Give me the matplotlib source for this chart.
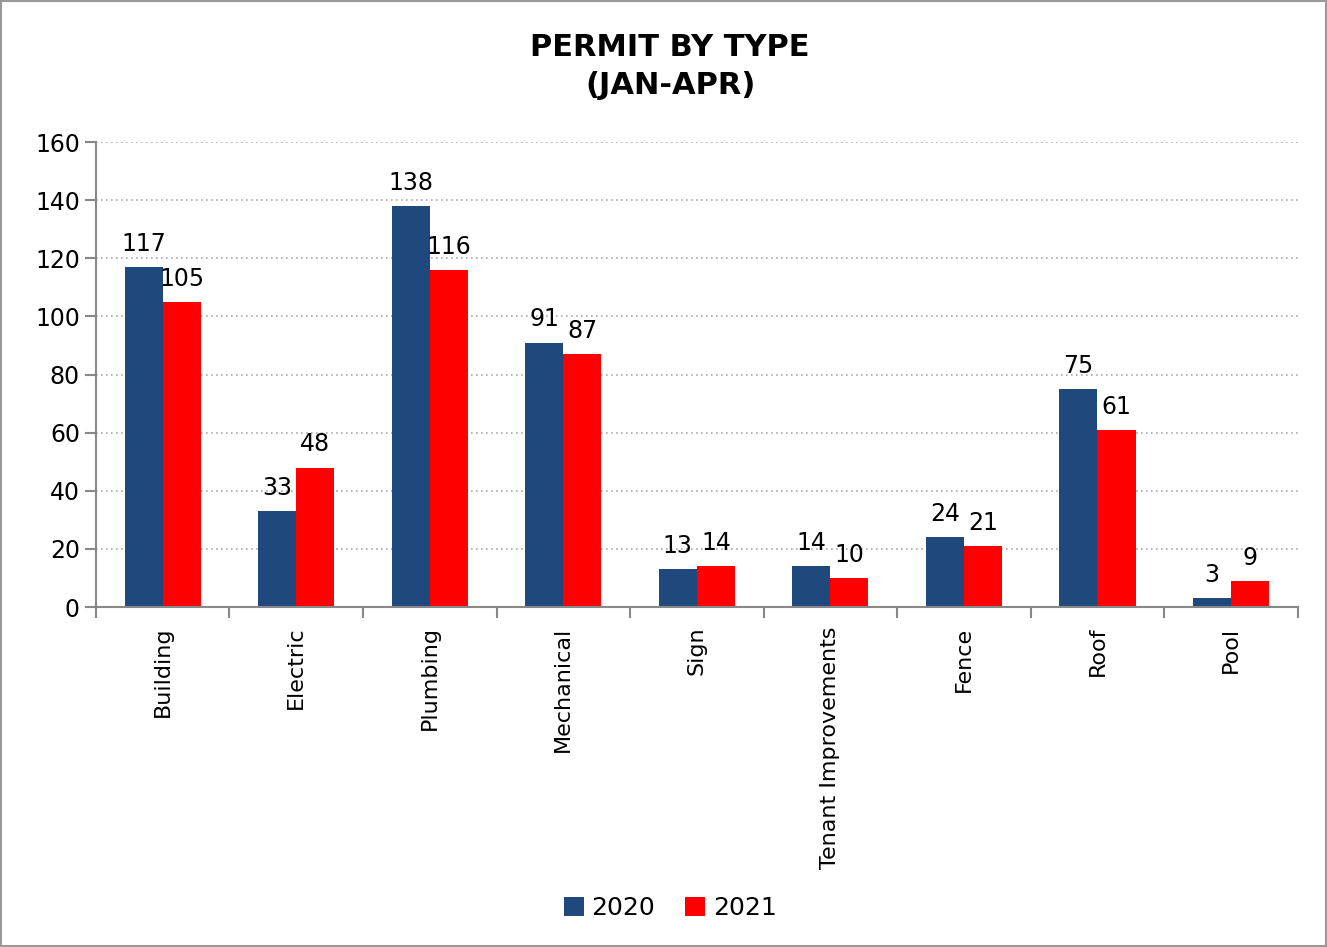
import numpy as np
import matplotlib.pyplot as plt
from matplotlib.patches import Rectangle

categories = ['Building', 'Electric', 'Plumbing', 'Mechanical', 'Sign',
              'Tenant Improvements', 'Fence', 'Roof', 'Pool']
y2020 = [117, 33, 138, 91, 13, 14, 24, 75, 3]
y2021 = [105, 48, 116, 87, 14, 10, 21, 61, 9]

blue = '#1f497d'
red = '#ff0000'

fig = plt.figure(figsize=(13.27, 9.47), dpi=100)
ax = fig.add_axes([0.0723, 0.359, 0.9057, 0.491])

x = np.arange(len(categories))
w = 0.285
b1 = ax.bar(x - w / 2, y2020, width=w, color=blue, label='2020')
b2 = ax.bar(x + w / 2, y2021, width=w, color=red, label='2021')

for bars in (b1, b2):
    for r in bars:
        ax.annotate(str(int(r.get_height())), (r.get_x() + r.get_width() / 2, r.get_height()),
                    xytext=(0, 8), textcoords='offset points', ha='center', va='bottom',
                    fontsize=17)

ax.set_xlim(-0.5, len(categories) - 0.5)
ax.set_ylim(0, 160)
ax.set_yticks(range(0, 161, 20))
ax.tick_params(axis='y', labelsize=17, length=8, color='#888888', width=1.5)
ax.set_xticks(x)
ax.set_xticklabels(categories, rotation=90, fontsize=16)
ax.tick_params(axis='x', length=0, pad=14)
ax.set_xticks(np.arange(-0.5, len(categories)), minor=True)
ax.tick_params(axis='x', which='minor', length=8, color='#888888', width=1.5)

ax.yaxis.grid(True, linestyle=(0, (1, 2)), color='#aaaaaa', linewidth=1.2)
ax.set_axisbelow(True)
for s in ['top', 'right']:
    ax.spines[s].set_visible(False)
for s in ['left', 'bottom']:
    ax.spines[s].set_color('#888888')
    ax.spines[s].set_linewidth(1.5)

fig.text(0.505, 0.930, 'PERMIT BY TYPE\n(JAN-APR)', ha='center', va='center',
         fontsize=22, fontweight='bold', linespacing=1.4)

fig.legend(handles=[b1, b2], loc='center', bbox_to_anchor=(0.505, 0.041), ncol=2,
           frameon=False, fontsize=18, handlelength=0.8, handleheight=0.8,
           handletextpad=0.3, columnspacing=1.2)

fig.patches.append(Rectangle((0.001, 0.001), 0.998, 0.998, transform=fig.transFigure,
                             fill=False, edgecolor='#999999', linewidth=1.5))

fig.savefig('out.png', dpi=100)
